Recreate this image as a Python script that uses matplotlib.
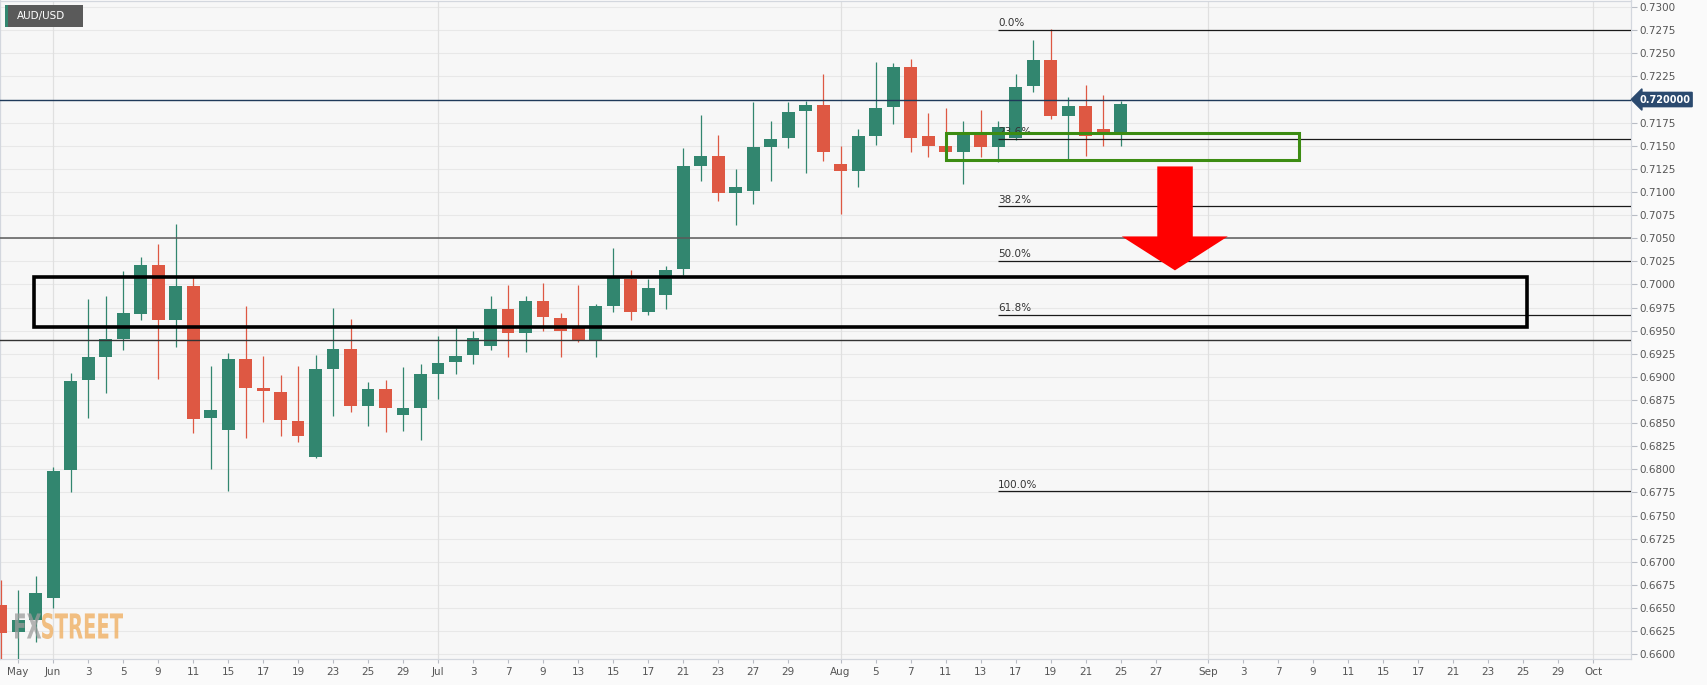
import numpy as np
import pandas as pd
import matplotlib
matplotlib.use('Agg')
import matplotlib.pyplot as plt
from matplotlib.patches import Rectangle, Polygon, PathPatch
from matplotlib.textpath import TextPath
from matplotlib.font_manager import FontProperties
from matplotlib.transforms import Affine2D, blended_transform_factory

# Trading days (AUD/USD daily, 2020)
days = pd.bdate_range('2020-05-27', '2020-10-01')
pos = {d.strftime('%Y-%m-%d'): i for i, d in enumerate(days)}

# OHLC, May 27 .. Aug 25
opens = [0.6653, 0.6624, 0.6637, 0.6661, 0.6799, 0.6897, 0.6922, 0.6941, 0.6968, 0.7021,
         0.6962, 0.6998, 0.6855, 0.6843, 0.6919, 0.6888, 0.6884, 0.6852, 0.6813, 0.6909,
         0.6930, 0.6869, 0.6887, 0.6859, 0.6866, 0.6903, 0.6916, 0.6924, 0.6933, 0.6973,
         0.6947, 0.6982, 0.6964, 0.6954, 0.6940, 0.6977, 0.7006, 0.6970, 0.6989, 0.7017,
         0.7128, 0.7139, 0.7099, 0.7101, 0.7149, 0.7158, 0.7188, 0.7194, 0.7130, 0.7123,
         0.7161, 0.7192, 0.7235, 0.7161, 0.7150, 0.7143, 0.7163, 0.7149, 0.7158, 0.7215,
         0.7243, 0.7182, 0.7193, 0.7168, 0.7164]
highs = [0.6680, 0.6669, 0.6685, 0.6803, 0.6904, 0.6984, 0.6987, 0.7014, 0.7030, 0.7044,
         0.7065, 0.7008, 0.6912, 0.6926, 0.6977, 0.6923, 0.6902, 0.6912, 0.6924, 0.6975,
         0.6963, 0.6894, 0.6897, 0.6911, 0.6914, 0.6944, 0.6953, 0.6950, 0.6987, 0.6999,
         0.6987, 0.7002, 0.6969, 0.6999, 0.6979, 0.7039, 0.7016, 0.7006, 0.7020, 0.7148,
         0.7183, 0.7162, 0.7125, 0.7197, 0.7177, 0.7197, 0.7198, 0.7228, 0.7150, 0.7168,
         0.7241, 0.7240, 0.7244, 0.7185, 0.7191, 0.7177, 0.7189, 0.7177, 0.7228, 0.7264,
         0.7276, 0.7203, 0.7216, 0.7205, 0.7198]
lows = [0.6595, 0.6595, 0.6613, 0.6650, 0.6775, 0.6856, 0.6882, 0.6929, 0.6962, 0.6898,
        0.6932, 0.6839, 0.6800, 0.6776, 0.6834, 0.6851, 0.6836, 0.6830, 0.6812, 0.6858,
        0.6862, 0.6847, 0.6840, 0.6841, 0.6832, 0.6876, 0.6903, 0.6914, 0.6929, 0.6922,
        0.6927, 0.6950, 0.6922, 0.6938, 0.6921, 0.6970, 0.6962, 0.6967, 0.6973, 0.7010,
        0.7112, 0.7090, 0.7064, 0.7087, 0.7112, 0.7148, 0.7121, 0.7133, 0.7076, 0.7105,
        0.7151, 0.7173, 0.7143, 0.7138, 0.7138, 0.7109, 0.7138, 0.7132, 0.7156, 0.7208,
        0.7179, 0.7135, 0.7139, 0.7150, 0.7150]
closes = [0.6623, 0.6637, 0.6666, 0.6798, 0.6896, 0.6921, 0.6941, 0.6969, 0.7021, 0.6962,
          0.6998, 0.6854, 0.6864, 0.6919, 0.6888, 0.6885, 0.6853, 0.6836, 0.6908, 0.6930,
          0.6869, 0.6887, 0.6866, 0.6866, 0.6903, 0.6915, 0.6923, 0.6942, 0.6973, 0.6947,
          0.6982, 0.6965, 0.6950, 0.6940, 0.6977, 0.7007, 0.6970, 0.6996, 0.7016, 0.7128,
          0.7139, 0.7099, 0.7105, 0.7149, 0.7157, 0.7187, 0.7194, 0.7143, 0.7123, 0.7160,
          0.7191, 0.7235, 0.7158, 0.7150, 0.7143, 0.7163, 0.7149, 0.7170, 0.7214, 0.7243,
          0.7182, 0.7193, 0.7160, 0.7165, 0.7195]

# x axis labels
tick_days = ['2020-05-28', '2020-06-01', '2020-06-03', '2020-06-05', '2020-06-09', '2020-06-11',
             '2020-06-15', '2020-06-17', '2020-06-19', '2020-06-23', '2020-06-25', '2020-06-29',
             '2020-07-01', '2020-07-03', '2020-07-07', '2020-07-09', '2020-07-13', '2020-07-15',
             '2020-07-17', '2020-07-21', '2020-07-23', '2020-07-27', '2020-07-29', '2020-08-03',
             '2020-08-05', '2020-08-07', '2020-08-11', '2020-08-13', '2020-08-17', '2020-08-19',
             '2020-08-21', '2020-08-25', '2020-08-27', '2020-09-01', '2020-09-03', '2020-09-07',
             '2020-09-09', '2020-09-11', '2020-09-15', '2020-09-17', '2020-09-21', '2020-09-23',
             '2020-09-25', '2020-09-29', '2020-10-01']
tick_labels = ['May', 'Jun', '3', '5', '9', '11', '15', '17', '19', '23', '25', '29',
               'Jul', '3', '7', '9', '13', '15', '17', '21', '23', '27', '29', 'Aug',
               '5', '7', '11', '13', '17', '19', '21', '25', '27', 'Sep', '3', '7',
               '9', '11', '15', '17', '21', '23', '25', '29', 'Oct']
month_starts = ['2020-06-01', '2020-07-01', '2020-08-03', '2020-09-01', '2020-10-01']

# Levels drawn on the chart
last_price = 0.7200
level_lines = [0.7050, 0.6940]
fib_high, fib_low = 0.7275, 0.6776
fib_ratios = [0.0, 0.236, 0.382, 0.5, 0.618, 1.0]
fib_names = ['0.0%', '23.6%', '38.2%', '50.0%', '61.8%', '100.0%']
fib_start = '2020-08-14'
green_box = (54.0, 74.2, 0.7135, 0.7164)   # x0, x1, y0, y1 (day index / price)
black_box = (1.92, 87.2, 0.6954, 0.70075)
arrow_pts = [(66.1, 0.71276), (68.13, 0.71276), (68.13, 0.70519), (70.13, 0.70519),
             (67.11, 0.70152), (64.07, 0.70519), (66.1, 0.70519)]

GREEN = '#32866f'
RED = '#de5843'
W, H = 1707, 685

fig = plt.figure(figsize=(W / 100, H / 100), dpi=100, facecolor='#fafafa')
ax = fig.add_axes([0, 26 / H, 1631 / W, 658.5 / H])
ax.set_facecolor('#f7f7f7')

o = np.array(opens); hi = np.array(highs); lo = np.array(lows); c = np.array(closes)
x = np.arange(len(o))
up = c >= o
body_lo = np.minimum(o, c)
body_h = np.maximum(np.abs(c - o), 0.00012)
for mask, col in ((up, GREEN), (~up, RED)):
    ax.vlines(x[mask], lo[mask], hi[mask], color=col, lw=0.9, zorder=3)
    ax.bar(x[mask], body_h[mask], bottom=body_lo[mask], width=0.74, color=col, zorder=4)

xmin, xmax = -0.03, 93.17
ax.set_xlim(xmin, xmax)
ax.set_ylim(0.65948, 0.73071)

# grid
yt = np.arange(0.66, 0.73001, 0.0025)
for v in yt:
    ax.axhline(v, color='#e8e8e8', lw=0.8, zorder=0)
for d in month_starts:
    ax.axvline(pos[d], color='#e0e0e0', lw=0.9, zorder=0)

# horizontal levels
ax.axhline(last_price, color='#1f3a5a', lw=1.0, zorder=5)
ax.axhline(level_lines[0], color='#5a5a5a', lw=1.1, zorder=5)
ax.axhline(level_lines[1], color='#333333', lw=1.0, zorder=5)

# fibonacci retracement
fx0 = pos[fib_start]
for r, name in zip(fib_ratios, fib_names):
    lv = fib_high - r * (fib_high - fib_low)
    ax.hlines(lv, fx0, xmax, color='#1a1a1a', lw=0.9, zorder=5)
    ax.text(fx0, lv + 0.0002, name, fontsize=7.5, color='#333333', ha='left', va='bottom', zorder=6)

# boxes and arrow
gx0, gx1, gy0, gy1 = green_box
ax.add_patch(Rectangle((gx0, gy0), gx1 - gx0, gy1 - gy0, fill=False, ec='#3c8c12', lw=2.2, zorder=6))
bx0, bx1, by0, by1 = black_box
ax.add_patch(Rectangle((bx0, by0), bx1 - bx0, by1 - by0, fill=False, ec='black', lw=2.6, zorder=6))
ax.add_patch(Polygon(arrow_pts, closed=True, fc='#ff0000', ec='none', zorder=7))

# axes styling; the 0.7200 label is covered by the last price tag
ax.yaxis.tick_right()
ax.set_yticks(yt)
ax.set_yticklabels(['' if abs(v - last_price) < 1e-6 else '%.4f' % v for v in yt])
ax.set_xticks([pos[d] for d in tick_days])
ax.set_xticklabels(tick_labels)
ax.tick_params(axis='y', length=4, width=0.8, color='#b8bcc4', labelsize=7.5,
               labelcolor='#555555', pad=2)
ax.tick_params(axis='x', length=3, width=0.8, color='#b8bcc4', labelsize=7.5,
               labelcolor='#555555', pad=3)
for s in ax.spines.values():
    s.set_color('#d3d7de')
    s.set_linewidth(0.9)

# last price tag
tr = blended_transform_factory(ax.transAxes, ax.transData)
ax.text(1.0 + 8 / 1631, last_price, '%.6f' % last_price, transform=tr, fontsize=7,
        fontweight='bold', color='white', ha='left', va='center', zorder=10, clip_on=False,
        bbox=dict(boxstyle='larrow,pad=0.22', fc='#2b4a6f', ec='#2b4a6f'))

# pixel transform for overlays (origin bottom-left)
px = Affine2D().scale(1 / W, 1 / H) + fig.transFigure

# symbol tag top-left
fig.add_artist(Rectangle((5, H - 27), 78, 22, transform=px, fc='#5a5a5a', ec='none', zorder=5))
fig.add_artist(Rectangle((5, H - 27), 2.5, 22, transform=px, fc=GREEN, ec='none', zorder=6))
fig.text(17 / W, (H - 16) / H, 'AUD/USD', color='white', fontsize=7.5, va='center', ha='left', zorder=7)

# FXSTREET watermark
fp = FontProperties(family='DejaVu Sans', weight='bold')
p_fx = TextPath((0, 0), 'FX', size=10, prop=fp)
p_st = TextPath((0, 0), 'STREET', size=10, prop=fp)
e1, e2 = p_fx.get_extents(), p_st.get_extents()
gap = 0.4
total = (e1.x1 - e1.x0) + gap + (e2.x1 - e2.x0)
hgt = max(e1.y1, e2.y1) - min(e1.y0, e2.y0)
sx, sy = 108 / total, 26 / hgt
base = min(e1.y0, e2.y0)
t1 = Affine2D().translate(-e1.x0, -base).scale(sx, sy).translate(15, 46)
t2 = Affine2D().translate(-e2.x0 + (e1.x1 - e1.x0) + gap, -base).scale(sx, sy).translate(15, 46)
fig.add_artist(PathPatch(t1.transform_path(p_fx), transform=px, fc='#9c9c9c', ec='none', alpha=0.75, zorder=4))
fig.add_artist(PathPatch(t2.transform_path(p_st), transform=px, fc='#f0b46c', ec='none', alpha=0.85, zorder=4))

fig.savefig('out.png', dpi=100, facecolor=fig.get_facecolor())
